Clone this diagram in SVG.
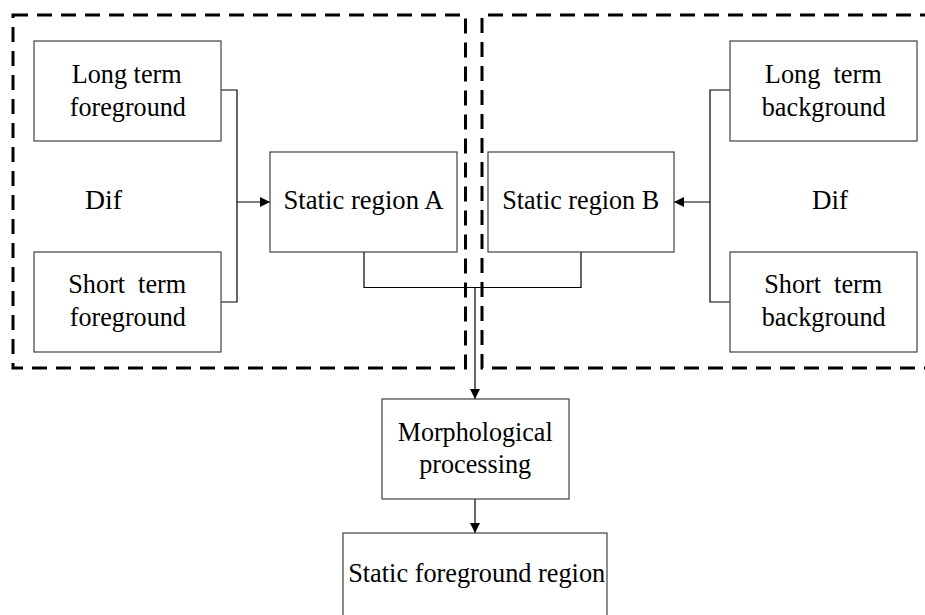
<svg xmlns="http://www.w3.org/2000/svg" width="925" height="615" viewBox="0 0 925 615">
<style>
.box{fill:#fff;stroke:#404040;stroke-width:1.2}
.dash{fill:none;stroke:#000;stroke-width:3;stroke-dasharray:15 9}
.ln{fill:none;stroke:#000;stroke-width:1.2}
text{font-family:"Liberation Serif","Times New Roman",serif;font-size:28px;fill:#000;text-anchor:middle}
</style>
<defs>
<marker id="ah" markerWidth="10" markerHeight="10" refX="10" refY="5" orient="auto" markerUnits="userSpaceOnUse">
<path d="M0,0 L10,5 L0,10 Z" fill="#000"/>
</marker>
</defs>
<rect x="0" y="0" width="925" height="615" fill="#fff"/>
<g id="group-left"><path class="dash" d="M13,15 H465.5 V368 H13 Z"/></g>
<g id="group-right"><path class="dash" d="M935,15 H482 V368 H935"/></g>
<g id="connectors">
<path class="ln" d="M221,90 H237 V302 H221"/>
<path class="ln" d="M237,202 H270" marker-end="url(#ah)"/>
<path class="ln" d="M730,90 H710 V302 H730"/>
<path class="ln" d="M710,202 H674" marker-end="url(#ah)"/>
<path class="ln" d="M364,252 V287.5 H581 V252"/>
<path class="ln" d="M475,287.5 V399" marker-end="url(#ah)"/>
<path class="ln" d="M475,499 V533" marker-end="url(#ah)"/>
</g>
<g id="long-fg"><rect class="box" x="34" y="41" width="187" height="100"/><text x="126.7" y="83" textLength="110" lengthAdjust="spacingAndGlyphs">Long term</text><text x="127.8" y="116" textLength="116" lengthAdjust="spacingAndGlyphs">foreground</text></g>
<g id="short-fg"><rect class="box" x="34" y="252" width="187" height="100"/><text x="127.2" y="293" xml:space="preserve" textLength="118" lengthAdjust="spacingAndGlyphs">Short  term</text><text x="127.8" y="326" textLength="116" lengthAdjust="spacingAndGlyphs">foreground</text></g>
<g id="dif-left"><text x="103.5" y="209" textLength="37" lengthAdjust="spacingAndGlyphs">Dif</text></g>
<g id="static-a"><rect class="box" x="270" y="152" width="187" height="100"/><text x="363.5" y="209" textLength="160" lengthAdjust="spacingAndGlyphs">Static region A</text></g>
<g id="static-b"><rect class="box" x="488" y="152" width="186" height="100"/><text x="580.7" y="209" textLength="157" lengthAdjust="spacingAndGlyphs">Static region B</text></g>
<g id="long-bg"><rect class="box" x="730" y="41" width="187" height="100"/><text x="823.3" y="83" xml:space="preserve" textLength="117" lengthAdjust="spacingAndGlyphs">Long  term</text><text x="823.7" y="116" textLength="124" lengthAdjust="spacingAndGlyphs">background</text></g>
<g id="short-bg"><rect class="box" x="730" y="252" width="187" height="100"/><text x="823.2" y="293" xml:space="preserve" textLength="118" lengthAdjust="spacingAndGlyphs">Short  term</text><text x="823.7" y="326" textLength="124" lengthAdjust="spacingAndGlyphs">background</text></g>
<g id="dif-right"><text x="830" y="209" textLength="36" lengthAdjust="spacingAndGlyphs">Dif</text></g>
<g id="morph"><rect class="box" x="382" y="399" width="187" height="100"/><text x="475.2" y="441" textLength="155" lengthAdjust="spacingAndGlyphs">Morphological</text><text x="475.2" y="473" textLength="112" lengthAdjust="spacingAndGlyphs">processing</text></g>
<g id="static-fg"><rect class="box" x="343" y="533" width="264" height="100"/><text x="476.7" y="582" textLength="257" lengthAdjust="spacingAndGlyphs">Static foreground region</text></g>
</svg>
